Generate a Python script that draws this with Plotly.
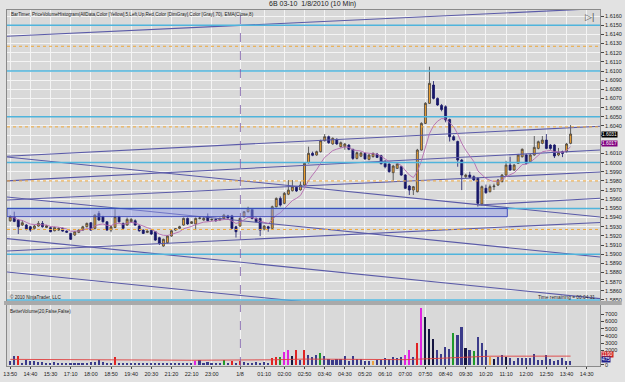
import plotly.graph_objects as go
import pandas as pd

# ---------------- data ----------------
opens = [1.59365,1.59402,1.59373,1.59318,1.59318,1.59300,1.59282,1.59307,1.59336,1.59292,
         1.59290,1.59256,1.59263,1.59282,1.59252,1.59227,1.59209,1.59238,1.59263,1.59300,
         1.59343,1.59282,1.59445,1.59409,1.59354,1.59263,1.59292,1.59409,1.59336,1.59318,
         1.59354,1.59365,1.59307,1.59263,1.59238,1.59260,1.59245,1.59180,1.59089,1.59125,
         1.59198,1.59263,1.59282,1.59318,1.59391,1.59336,1.59330,1.59391,1.59373,1.59409,
         1.59373,1.59380,1.59373,1.59391,1.59420,1.59420,1.59300,1.59307,1.59409,1.59464,
         1.59490,1.59391,1.59391,1.59274,1.59300,1.59282,1.59518,1.59609,1.59555,1.59655,
         1.59693,1.59730,1.59701,1.59755,1.59999,1.60101,1.60083,1.60119,1.60239,1.60283,
         1.60203,1.60254,1.60174,1.60174,1.60192,1.60145,1.60046,1.60070,1.60101,1.60035,
         1.60065,1.60093,1.60075,1.59991,1.59984,1.59890,1.59937,1.59955,1.59864,1.59744,
         1.59700,1.59682,1.60137,1.60428,1.60647,1.60847,1.60701,1.60624,1.60610,1.60470,
         1.60283,1.60230,1.60028,1.59846,1.59864,1.59846,1.59828,1.59548,1.59719,1.59682,
         1.59737,1.59755,1.59792,1.59864,1.59973,1.59919,1.59992,1.60064,1.60083,1.60010,
         1.60083,1.60155,1.60210,1.60246,1.60192,1.60192,1.60083,1.60120,1.60119,1.60210]
highs = [1.59427,1.59464,1.59380,1.59373,1.59330,1.59310,1.59320,1.59362,1.59362,1.59320,
         1.59300,1.59300,1.59292,1.59290,1.59260,1.59235,1.59252,1.59270,1.59310,1.59345,
         1.59350,1.59435,1.59470,1.59420,1.59360,1.59310,1.59500,1.59420,1.59345,1.59400,
         1.59395,1.59380,1.59318,1.59270,1.59260,1.59270,1.59250,1.59190,1.59170,1.59205,
         1.59263,1.59285,1.59310,1.59400,1.59400,1.59360,1.59400,1.59410,1.59405,1.59445,
         1.59390,1.59390,1.59400,1.59440,1.59430,1.59430,1.59310,1.59400,1.59470,1.59518,
         1.59500,1.59400,1.59400,1.59320,1.59310,1.59530,1.59620,1.59630,1.59680,1.59810,
         1.59810,1.59740,1.59792,1.60000,1.60174,1.60120,1.60130,1.60250,1.60312,1.60295,
         1.60275,1.60265,1.60230,1.60215,1.60200,1.60150,1.60120,1.60115,1.60110,1.60095,
         1.60110,1.60105,1.60085,1.60028,1.59995,1.59975,1.59995,1.59965,1.59875,1.59755,
         1.59745,1.60150,1.60440,1.60660,1.61047,1.60890,1.60710,1.60640,1.60625,1.60480,
         1.60300,1.60240,1.60040,1.59880,1.59900,1.59860,1.59840,1.59750,1.59760,1.59760,
         1.59770,1.59820,1.59875,1.60020,1.60064,1.59985,1.60095,1.60155,1.60095,1.60095,
         1.60290,1.60240,1.60290,1.60312,1.60200,1.60200,1.60160,1.60130,1.60215,1.60410]
lows = [1.59354,1.59350,1.59220,1.59307,1.59260,1.59245,1.59270,1.59300,1.59290,1.59285,
        1.59240,1.59250,1.59256,1.59245,1.59235,1.59155,1.59200,1.59230,1.59256,1.59292,
        1.59256,1.59270,1.59365,1.59345,1.59256,1.59240,1.59285,1.59345,1.59274,1.59310,
        1.59345,1.59310,1.59245,1.59220,1.59230,1.59210,1.59145,1.59100,1.59081,1.59118,
        1.59190,1.59256,1.59274,1.59310,1.59320,1.59330,1.59263,1.59380,1.59365,1.59360,
        1.59365,1.59355,1.59365,1.59385,1.59390,1.59274,1.59182,1.59300,1.59400,1.59455,
        1.59380,1.59345,1.59198,1.59260,1.59245,1.59274,1.59510,1.59520,1.59545,1.59645,
        1.59685,1.59680,1.59695,1.59750,1.59990,1.60070,1.60075,1.60110,1.60230,1.60205,
        1.60195,1.60195,1.60165,1.60140,1.60135,1.60030,1.60035,1.60060,1.60030,1.60025,
        1.60055,1.60050,1.59980,1.59937,1.59890,1.59802,1.59930,1.59855,1.59710,1.59646,
        1.59646,1.59675,1.60130,1.60420,1.60640,1.60690,1.60620,1.60560,1.60440,1.60230,
        1.60240,1.59955,1.59700,1.59830,1.59830,1.59800,1.59520,1.59530,1.59660,1.59675,
        1.59700,1.59745,1.59785,1.59855,1.59910,1.59910,1.59985,1.60055,1.59980,1.60000,
        1.60075,1.60145,1.60200,1.60145,1.60140,1.60050,1.60070,1.60060,1.60110,1.60200]
closes = [1.59409,1.59358,1.59300,1.59343,1.59274,1.59263,1.59307,1.59336,1.59300,1.59310,
          1.59245,1.59292,1.59282,1.59252,1.59240,1.59162,1.59245,1.59263,1.59300,1.59336,
          1.59263,1.59427,1.59373,1.59354,1.59263,1.59300,1.59409,1.59354,1.59282,1.59380,
          1.59380,1.59318,1.59256,1.59227,1.59252,1.59220,1.59154,1.59118,1.59162,1.59198,
          1.59256,1.59278,1.59300,1.59391,1.59330,1.59354,1.59391,1.59395,1.59391,1.59365,
          1.59380,1.59365,1.59391,1.59427,1.59395,1.59282,1.59245,1.59391,1.59464,1.59500,
          1.59391,1.59354,1.59263,1.59307,1.59282,1.59518,1.59609,1.59536,1.59664,1.59700,
          1.59737,1.59690,1.59755,1.59992,1.60101,1.60080,1.60119,1.60239,1.60283,1.60217,
          1.60265,1.60203,1.60217,1.60203,1.60145,1.60046,1.60108,1.60105,1.60040,1.60082,
          1.60101,1.60057,1.59988,1.59955,1.59901,1.59962,1.59984,1.59864,1.59719,1.59700,
          1.59737,1.60137,1.60428,1.60647,1.60865,1.60701,1.60629,1.60580,1.60465,1.60283,
          1.60247,1.60028,1.59864,1.59864,1.59839,1.59810,1.59555,1.59737,1.59671,1.59737,
          1.59744,1.59810,1.59864,1.59973,1.59919,1.59973,1.60083,1.60145,1.59992,1.60083,
          1.60166,1.60228,1.60246,1.60155,1.60155,1.60072,1.60110,1.60100,1.60203,1.60312]

volumes = [500,1200,1200,300,700,500,450,400,350,150,
           250,350,100,200,150,250,100,150,200,250,
           400,400,700,350,300,250,1100,300,250,250,
           300,250,200,200,250,300,250,300,300,250,
           250,200,300,250,200,300,500,600,300,350,
           250,200,250,600,300,450,300,500,400,300,
           300,350,300,350,300,900,1000,1000,1800,2000,
           1200,2000,700,2000,1330,1100,1330,1690,1180,770,
           690,820,820,1180,540,1180,730,730,540,540,
           540,640,640,870,770,1100,870,1100,1330,2000,
           1100,3000,7820,6550,4960,3500,2090,1460,2460,2230,
           4370,4140,5190,2370,2000,1910,3910,3050,2090,1100,
           770,1100,1410,1100,870,500,870,960,870,960,
           1460,640,640,1330,730,540,640,870,540,475]
vol_class = list("nnrnnnnnnnnnnnnnnnnn" "nnnnnnrnnnnnnnnnnnnn" "nnnnnnmnnnnnngnrnrnn"
                 "nnnnnrrgmmkrnrnnngnn" "nnnnnnnnnnonnnnnnnmm" "nrmkkknnnngnnkngnnno"
                 "knnknnnnnnnnnnnnnnnn")
vol_avg_idx = [0, 10, 20, 27, 35, 45, 57, 65, 73, 85, 98, 105, 112, 119, 139]
vol_avg_val = [740, 740, 740, 720, 650, 620, 620, 680, 780, 700, 700, 850, 1000, 1180, 1190]

tick_idx = [0, 5, 10, 15, 20, 25, 30, 35, 40, 45, 50, 57, 63, 68, 73, 78, 83, 88, 93,
            98, 103, 108, 113, 118, 123, 128, 133, 138, 143]
tick_lbl = ["13:50", "14:40", "15:30", "17:10", "18:00", "18:50", "19:40", "20:30", "21:20",
            "22:10", "23:00", "1/8", "01:10", "02:00", "02:50", "03:40", "04:30", "05:20",
            "06:10", "07:00", "07:50", "08:40", "09:30", "10:20", "11:10", "12:00", "12:50",
            "13:40", "14:30"]
session_break = 57.1

price_ticks = [round(1.5850 + 0.001 * k, 4) for k in range(32)]
hidden_price_labels = [1.6020, 1.6030]
cyan_levels = [1.6150, 1.6100, 1.6050, 1.6000, 1.5950, 1.5900, 1.5850]
orange_levels = [1.6127, 1.6039, 1.5980, 1.5927]
# trend lines: (bar0, price0, bar1, price1)
trend_lines = [(-1.47, 1.61378, 146.3, 1.61682),
               (-1.47, 1.60068, 146.3, 1.60397),
               (-1.47, 1.60064, 146.3, 1.59406),
               (-1.47, 1.59799, 146.3, 1.60137),
               (-1.47, 1.59591, 146.3, 1.59897),
               (-1.47, 1.59627, 146.3, 1.58969),
               (-1.47, 1.59034, 146.3, 1.59346),
               (-1.47, 1.59173, 146.3, 1.58515),
               (-1.47, 1.58809, 146.3, 1.58156),
               (116.2, 1.59537, 146.3, 1.59611)]
zone = (-1.5, 123.3, 1.59409, 1.5950)

# ---------------- geometry ----------------
W, H = 625, 382
ML, MR, MT, MB = 3, 22, 10, 16
PW, PH = W - ML - MR, H - MT - MB
P_TOP, P_BOT = 10, 301
V_TOP, V_BOT = 305, H - MB
X_RANGE = [-0.8, 146.3]
Y_RANGE = [1.58489, 1.61666]
V_RANGE = [-180, 8280]


def px(x, y):
    return (x - ML) / PW, (H - MB - y) / PH


n = len(closes)
idx = list(range(n))
ema = pd.Series(closes).ewm(span=8, adjust=False).mean().tolist()

cmap = {"n": "#3b3b8a", "r": "#e02222", "m": "#e022e0", "g": "#1f9a2a",
        "o": "#e8a040", "k": "#151540"}
vcolors = [cmap[c] for c in vol_class]

fig = go.Figure()

for (a0, p0, a1, p1) in trend_lines:
    fig.add_trace(go.Scatter(x=[a0, a1], y=[p0, p1], mode="lines",
                             line=dict(color="#5a5aa8", width=1.1),
                             hoverinfo="skip", showlegend=False, xaxis="x", yaxis="y"))

fig.add_trace(go.Candlestick(
    x=idx, open=opens, high=highs, low=lows, close=closes,
    increasing=dict(fillcolor="#f0a030", line=dict(color="#404040", width=0.8)),
    decreasing=dict(fillcolor="#18186a", line=dict(color="#18186a", width=0.8)),
    whiskerwidth=0, showlegend=False, xaxis="x", yaxis="y"))

fig.add_trace(go.Scatter(x=idx, y=ema, mode="lines",
                         line=dict(color="#b46ab0", width=0.9),
                         hoverinfo="skip", showlegend=False, xaxis="x", yaxis="y"))

fig.add_trace(go.Bar(x=idx, y=volumes, marker=dict(color=vcolors, line=dict(width=0)),
                     width=0.4, showlegend=False, xaxis="x2", yaxis="y2"))
fig.add_trace(go.Scatter(x=vol_avg_idx, y=vol_avg_val, mode="lines",
                         line=dict(color="#e04040", width=0.9),
                         hoverinfo="skip", showlegend=False, xaxis="x2", yaxis="y2"))

shapes = []
for lv in cyan_levels:
    shapes.append(dict(type="line", xref="x domain", yref="y", x0=0, x1=1, y0=lv, y1=lv,
                       line=dict(color="#4fb4dc", width=1.5), layer="above"))
for lv in orange_levels:
    shapes.append(dict(type="line", xref="x domain", yref="y", x0=0, x1=1, y0=lv, y1=lv,
                       line=dict(color="#f0a838", width=1, dash="dot"), layer="above"))
shapes.append(dict(type="rect", xref="x", yref="y", x0=max(zone[0], X_RANGE[0]), x1=zone[1],
                   y0=zone[2], y1=zone[3], fillcolor="rgba(140,150,235,0.45)",
                   line=dict(color="#3a46b8", width=1), layer="above"))
shapes.append(dict(type="line", xref="x", yref="paper", x0=session_break, x1=session_break,
                   y0=0, y1=1, line=dict(color="#7a5aa8", width=0.8, dash="dash")))
sy0 = px(0, V_TOP)[1]
sy1 = px(0, P_BOT)[1]
shapes.append(dict(type="rect", xref="paper", yref="paper", x0=-ML / PW, x1=1 + MR / PW,
                   y0=sy0, y1=sy1, fillcolor="#a9a9a9", line=dict(width=0)))

font = "Liberation Sans, Arial, sans-serif"
ann = []


def add_text(x, y, text, size=5.5, anchor="left", color="#222222"):
    ax, ay = px(x, y)
    ann.append(dict(x=ax, y=ay, xref="paper", yref="paper", text=text, showarrow=False,
                    xanchor=anchor, yanchor="middle", font=dict(size=size, color=color,
                                                              family=font)))


add_text(312, 4.5, "6B 03-10  1/8/2010 (10 Min)", size=7, anchor="center")
add_text(5, 15, "BarTimer, PriceVolumeHistogram(AllData,Color [Yellow],5,Left,Up,Red,"
                "Color [DimGray],Color [Gray],70), EMA(Close,8)", size=4.6)
add_text(4, 297, "© 2010 NinjaTrader, LLC", size=4.6)
add_text(600, 297, "Time remaining = 00:04:31", size=4.8, anchor="right")
add_text(4, 311, "BetterVolume(20,False,False)", size=4.6)
add_text(592, 17, "▷|", size=9, anchor="center", color="#555555")


def box(yval, yref, text, bg, shift=0):
    ann.append(dict(x=1.002, y=yval, xref="paper", yref=yref, yshift=shift, text=text,
                    showarrow=False, xanchor="left", yanchor="middle", bgcolor=bg,
                    borderpad=0, font=dict(size=4.8, color="white", family=font)))


box(closes[-1], "y", f"{closes[-1]:.4f}", "#000000")
box(ema[-1], "y", f"{ema[-1]:.4f}", "#800080", shift=3)
box(vol_avg_val[-1], "y2", f"{vol_avg_val[-1]}", "#d02020", shift=1.5)
box(volumes[-1], "y2", f"{volumes[-1]}", "#20208a", shift=1.5)

p_dom = [px(0, P_BOT)[1], 1]
v_dom = [0, px(0, V_TOP)[1]]

axfont = dict(size=5.5, color="#222222", family=font)
price_text = ["" if t in hidden_price_labels else f"{t:.4f}" for t in price_ticks]
fig.update_layout(
    width=W, height=H, margin=dict(l=ML, r=MR, t=MT, b=MB),
    paper_bgcolor="#e2e2e2", plot_bgcolor="#d9d9d9",
    showlegend=False, shapes=shapes, annotations=ann, bargap=0,
    xaxis=dict(domain=[0, 1], anchor="y", range=X_RANGE, tickvals=tick_idx,
               showticklabels=False, ticks="", showgrid=True, gridcolor="#f4f4f4",
               gridwidth=1, zeroline=False, rangeslider=dict(visible=False),
               showline=True, linecolor="#8a8a8a", mirror=True),
    yaxis=dict(domain=p_dom, anchor="x", range=Y_RANGE, side="right",
               tickvals=price_ticks, ticktext=price_text,
               tickfont=axfont, ticks="outside", ticklen=3, tickcolor="#444444",
               showgrid=True, gridcolor="#f4f4f4", gridwidth=1, zeroline=False,
               showline=True, linecolor="#8a8a8a", mirror=True),
    xaxis2=dict(domain=[0, 1], anchor="y2", range=X_RANGE, matches="x",
                tickvals=tick_idx, ticktext=tick_lbl, tickfont=axfont, ticks="outside",
                ticklen=2, tickcolor="#444444", showgrid=True, gridcolor="#f4f4f4",
                zeroline=False, showline=True, linecolor="#8a8a8a", mirror=True),
    yaxis2=dict(domain=v_dom, anchor="x2", range=V_RANGE, side="right",
                tickvals=[0, 2000, 3000, 4000, 5000, 6000, 7000], tickfont=axfont,
                ticks="outside", ticklen=3, tickcolor="#444444", showgrid=False,
                zeroline=False, showline=True, linecolor="#8a8a8a", mirror=True),
)

fig.write_html("out.html")
